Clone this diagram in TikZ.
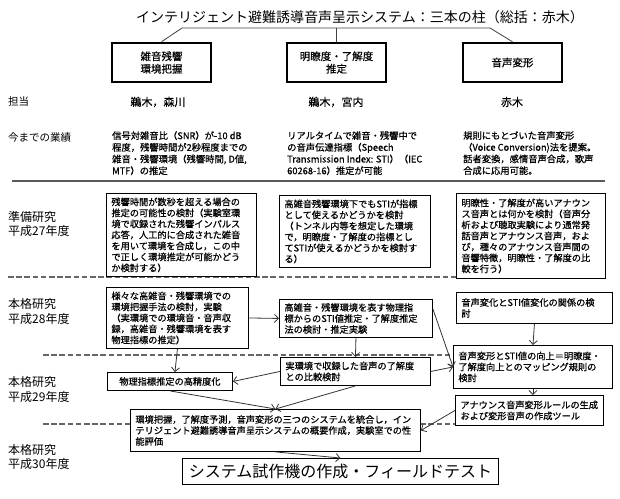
\documentclass[tikz,border=0pt]{standalone}
\usepackage{fontspec}
\setmainfont{Noto Sans CJK JP}
\newfontfamily\heavyjp{Noto Sans CJK JP}[FakeBold=0.6]
\usetikzlibrary{positioning, arrows.meta}
\tikzset{
    pillar/.style={draw, line width=2.4pt, minimum width=99pt, minimum height=39pt, align=center, inner sep=0pt, font=\heavyjp\fontsize{10.5}{12.5}\selectfont},
    task/.style={draw, line width=0.9pt, fill=white, anchor=north west, align=left, inner xsep=5pt, inner ysep=2pt, font=\heavyjp\fontsize{9.2}{11}\selectfont},
    rowlabel/.style={anchor=west, inner sep=0pt, font=\fontsize{10.5}{12}\selectfont},
    staffname/.style={inner sep=0pt, font=\heavyjp\fontsize{11}{12}\selectfont},
    yearlabel/.style={anchor=west, align=left, inner sep=0pt, font=\fontsize{12}{14.5}\selectfont},
    note/.style={anchor=north west, align=left, inner sep=0pt, font=\heavyjp\fontsize{9.3}{11.7}\selectfont},
    flow/.style={-{Straight Barb[length=4pt,width=8pt]}, line width=0.8pt, black!80},
    divider/.style={dash pattern=on 5.5pt off 2.7pt, line width=1.2pt, black!60}
}
\begin{document}
\begin{tikzpicture}[x=1pt, y=-1pt]
\useasboundingbox (0,0) rectangle (620,498);

\node[font=\fontsize{14}{16}\selectfont] (title) at (360,17) {インテリジェント避難誘導音声呈示システム：三本の柱（総括：赤木）};

\node[pillar] (noise) at (161.5,62.5) {雑音残響\\環境把握};
\node[pillar] (clarity) at (336.5,62.5) {明瞭度・了解度\\推定};
\node[pillar] (voice) at (512.5,62.5) {音声変形};

\coordinate (treel) at (182,28);
\coordinate (treer) at (490,28);
\draw[line width=0.8pt, black!75] (noise.north) -- (treel) -- (treer) -- (voice.north);
\draw[line width=0.8pt, black!75] (clarity.north) -- (clarity.north |- treel);

\node[rowlabel] (staff) at (8,102) {担当};
\node[staffname] (staff1) at (158,102) {鵜木，森川};
\node[staffname] (staff2) at (336,102) {鵜木，宮内};
\node[staffname] (staff3) at (512,102) {赤木};

\node[rowlabel] (past) at (8,138) {今までの業績};
\node[note] (past1) at (112,131) {信号対雑音比（SNR）が-10 dB\\程度，残響時間が2秒程度までの\\雑音・残響環境（残響時間, D値,\\MTF）の推定};
\node[note] (past2) at (287,131) {リアルタイムで雑音・残響中で\\の音声伝達指標（Speech\\Transmission Index: STI）（IEC\\60268-16）推定が可能};
\node[note] (past3) at (463,131) {規則にもとづいた音声変形\\（Voice Conversion)法を提案。\\話者変換，感情音声合成，歌声\\合成に応用可能。};

\draw[line width=1.8pt, black!65] (12,181) -- (605,181);
\draw[divider] (8,277) -- (605,277);
\draw[divider] (43,355) -- (610,355);
\draw[divider] (43,424) -- (600,424);

\node[yearlabel] (y27) at (8,224) {準備研究\\平成27年度};
\node[yearlabel] (y28) at (8,311.5) {本格研究\\平成28年度};
\node[yearlabel] (y29) at (8,389.5) {本格研究\\平成29年度};
\node[yearlabel] (y30) at (8,457) {本格研究\\平成30年度};

\node[task, text width=140pt, minimum height=83pt] (prep1) at (106,193) {残響時間が数秒を超える場合の\\推定の可能性の検討（実験室環\\境で収録された残響インパルス\\応答，人工的に合成された雑音\\を用いて環境を合成し，この中\\で正しく環境推定が可能かどう\\か検討する）};
\node[task, text width=141pt, minimum height=72pt] (prep2) at (279,195) {高雑音残響環境下でもSTIが指標\\として使えるかどうかを検討\\（トンネル内等を想定した環境\\で，明瞭度・了解度の指標とし\\てSTIが使えるかどうかを検討す\\る）};
\node[task, text width=139pt, minimum height=85pt] (prep3) at (456,193) {明瞭性・了解度が高いアナウン\\ス音声とは何かを検討（音声分\\析および聴取実験により通常発\\話音声とアナウンス音声，およ\\び，種々のアナウンス音声間の\\音響特徴，明瞭性・了解度の比\\較を行う）};

\node[task, text width=132pt, minimum height=61pt] (env28) at (106,287) {様々な高雑音・残響環境での\\環境把握手法の検討，実験\\（実環境での環境音・音声収\\録，高雑音・残響環境を表す\\物理指標の推定）};
\node[task, text width=143pt, minimum height=38pt] (sti28) at (279,299) {高雑音・残響環境を表す物理指\\標からのSTI値推定・了解度推定\\法の検討・推定実験};
\node[task, text width=146pt, minimum height=31pt] (conv28) at (456,292) {音声変化とSTI値変化の関係の検\\討};

\node[task, text width=115pt, minimum height=18pt, align=center] (env29) at (107,372) {物理指標推定の高精度化};
\node[task, text width=140pt, minimum height=28pt] (sti29) at (280,357) {実環境で収録した音声の了解度\\との比較検討};
\node[task, text width=149pt, minimum height=43pt] (map29) at (453,345) {音声変形とSTI値の向上＝明瞭度・\\了解度向上とのマッピング規則の\\検討};
\node[task, text width=138pt, minimum height=30pt] (tool29) at (455,395) {アナウンス音声変形ルールの生成\\および変形音声の作成ツール};

\node[task, text width=280pt, minimum height=42pt] (integ) at (130,409) {環境把握，了解度予測，音声変形の三つのシステムを統合し，イン\\テリジェント避難誘導音声呈示システムの概要作成，実験室での性\\能評価};
\node[task, text width=306pt, minimum height=26pt, align=center, font=\fontsize{16}{18}\selectfont] (field) at (182,458) {システム試作機の作成・フィールドテスト};

\draw[flow] (env28.east) -- (sti28.west);
\draw[flow] (env28.south) -- ([xshift=5pt]env29.north);
\draw[flow] (sti28.south) -- (sti29.north);
\draw[flow] (sti29.west) -- (env29.east);
\draw[flow] ([yshift=-10pt]sti28.north east) -- (map29.west);
\draw[flow] (sti29.east) -- (map29.west);
\draw[flow] (conv28.south) -- (map29.north);
\draw[flow] (map29.south) -- (map29.south |- tool29.north);
\draw[flow] (env29.south) -- (integ.north);
\draw[flow] (sti29.south) -- (integ.north);
\draw[flow] (tool29.west) -- (integ.east);
\draw[flow] (integ.south) -- (field.north);

\end{tikzpicture}
\end{document}
